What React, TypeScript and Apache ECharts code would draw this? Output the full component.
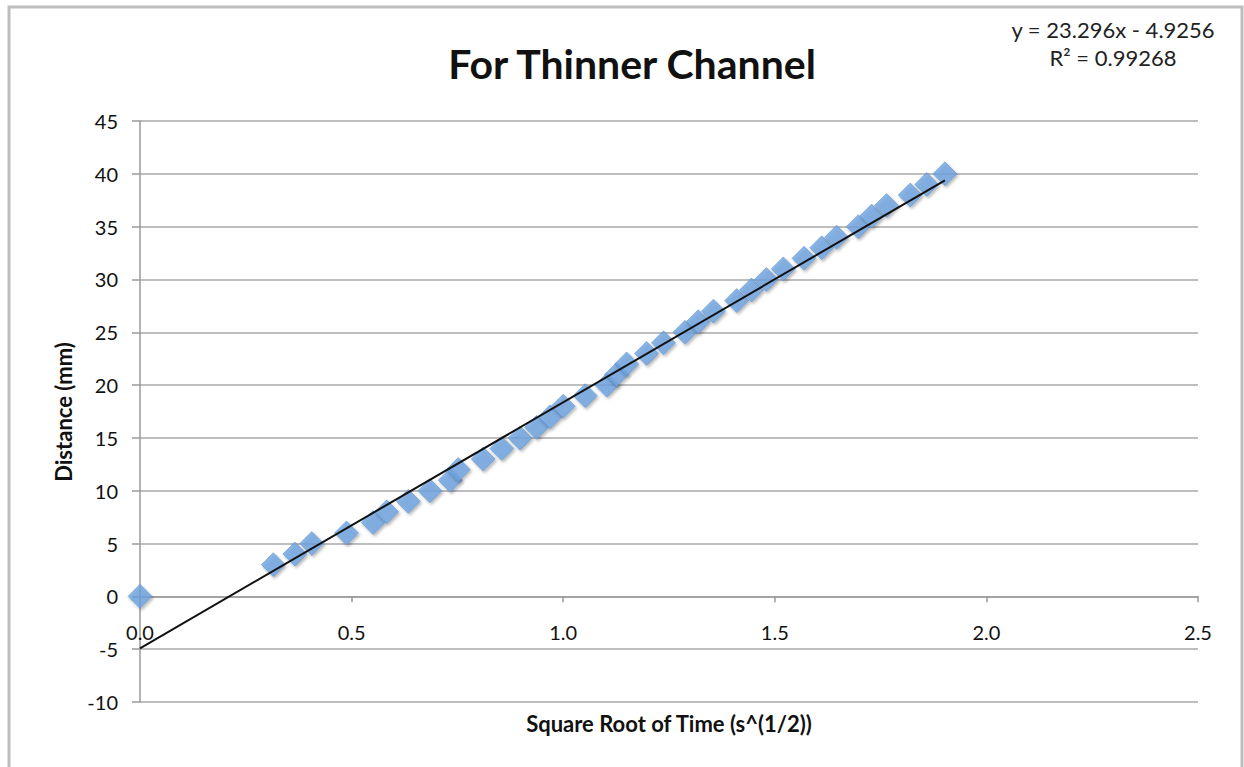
import { useEffect, useRef } from "react";
import * as echarts from "echarts";

// Square root of elapsed time (s^(1/2)) for each measured front position
const sqrtTime = [
  0, 0.315, 0.366, 0.406, 0.488, 0.551, 0.583, 0.634, 0.685, 0.733, 0.752,
  0.811, 0.855, 0.898, 0.937, 0.969, 1.0, 1.052, 1.103, 1.126, 1.15, 1.197,
  1.237, 1.288, 1.319, 1.355, 1.41, 1.445, 1.48, 1.52, 1.569, 1.611, 1.646,
  1.697, 1.729, 1.764, 1.82, 1.859, 1.902,
];

// Distance travelled along the channel (mm)
const distance = [
  0, 3, 4, 5, 6, 7, 8, 9, 10, 11, 12, 13, 14, 15, 16, 17, 18, 19, 20, 21, 22,
  23, 24, 25, 26, 27, 28, 29, 30, 31, 32, 33, 34, 35, 36, 37, 38, 39, 40,
];

// Linear trendline reported for the data
const slope = 23.296;
const intercept = -4.9256;
const rSquared = 0.99268;

const FONT = "Lato, 'Open Sans', sans-serif";

export default function App() {
  const ref = useRef<HTMLDivElement>(null);

  useEffect(() => {
    if (!ref.current) return;
    const chart = echarts.init(ref.current, undefined, { renderer: "svg" });

    const points = sqrtTime.map((x, i) => [x, distance[i]]);
    const xEnd = Math.max(...sqrtTime);
    const trend = [
      [0, intercept],
      [xEnd, slope * xEnd + intercept],
    ];

    chart.setOption({
      animation: false,
      backgroundColor: "#ffffff",
      textStyle: { fontFamily: FONT },
      title: {
        text: "For Thinner Channel",
        left: 627,
        top: 38,
        textAlign: "center",
        textStyle: {
          fontFamily: FONT,
          fontSize: 41,
          fontWeight: "bold",
          color: "#111111",
        },
      },
      graphic: [
        {
          type: "rect",
          shape: { x: 9, y: 7, width: 1233, height: 800 },
          style: { fill: "none", stroke: "#bdbdbd", lineWidth: 3 },
          silent: true,
        },
        {
          type: "text",
          x: 1113,
          y: 29,
          style: {
            text: `y = ${slope}x - ${Math.abs(intercept)}`,
            fontFamily: FONT,
            fontSize: 22,
            fill: "#222222",
            align: "center",
            verticalAlign: "middle",
          },
        },
        {
          type: "text",
          x: 1113,
          y: 57,
          style: {
            text: `R² = ${rSquared}`,
            fontFamily: FONT,
            fontSize: 22,
            fill: "#222222",
            align: "center",
            verticalAlign: "middle",
          },
        },
        {
          type: "text",
          x: 669,
          y: 723,
          style: {
            text: "Square Root of Time (s^(1/2))",
            fontFamily: FONT,
            fontSize: 22,
            fontWeight: "bold",
            fill: "#111111",
            align: "center",
            verticalAlign: "middle",
          },
        },
        {
          type: "text",
          x: 63,
          y: 412,
          rotation: Math.PI / 2,
          style: {
            text: "Distance (mm)",
            fontFamily: FONT,
            fontSize: 22,
            fontWeight: "bold",
            fill: "#111111",
            align: "center",
            verticalAlign: "middle",
          },
        },
      ],
      grid: {
        left: 140,
        right: 46,
        top: 121,
        bottom: 65,
        outerBoundsMode: "none",
        containLabel: false,
      },
      xAxis: {
        type: "value",
        min: 0,
        max: 2.5,
        interval: 0.5,
        axisLine: { show: true, onZero: true, lineStyle: { color: "#9a9a9a", width: 1.5 } },
        axisTick: { show: true, length: 6, lineStyle: { color: "#9a9a9a", width: 1.5 } },
        axisLabel: {
          formatter: (v: number) => v.toFixed(1),
          margin: -80,
          fontSize: 20,
          fontFamily: FONT,
          color: "#111111",
        },
        splitLine: { show: false },
      },
      yAxis: {
        type: "value",
        min: -10,
        max: 45,
        interval: 5,
        axisLine: { show: true, onZero: false, lineStyle: { color: "#9a9a9a", width: 1.5 } },
        axisTick: { show: true, length: 8, lineStyle: { color: "#9a9a9a", width: 1.5 } },
        axisLabel: {
          margin: 22,
          fontSize: 20,
          fontFamily: FONT,
          color: "#111111",
        },
        splitLine: { show: true, lineStyle: { color: "#a8a8a8", width: 1.5 } },
      },
      series: [
        {
          type: "scatter",
          data: points,
          symbol: "diamond",
          symbolSize: 24,
          itemStyle: {
            color: "#6ea4e0",
            borderColor: "#4f86c8",
            borderWidth: 0.6,
            shadowBlur: 3,
            shadowOffsetX: 1.5,
            shadowOffsetY: 2,
            shadowColor: "rgba(0,0,0,0.35)",
          },
          z: 2,
        },
        {
          type: "line",
          data: trend,
          symbol: "none",
          lineStyle: { color: "#111111", width: 2 },
          z: 3,
        },
      ],
    });

    return () => chart.dispose();
  }, []);

  return (
    <div
      ref={ref}
      style={{
        position: "fixed",
        left: 0,
        top: 0,
        width: 1244,
        height: 767,
        background: "#ffffff",
      }}
    />
  );
}
